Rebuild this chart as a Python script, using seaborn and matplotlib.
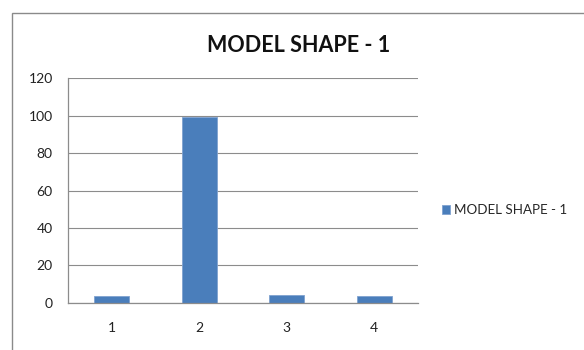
import matplotlib
matplotlib.use("Agg")
import matplotlib.pyplot as plt
import seaborn as sns
import pandas as pd
from matplotlib.patches import Rectangle

categories = ["1", "2", "3", "4"]
values = [3.5, 99, 4.4, 3.5]
series_name = "MODEL SHAPE - 1"
y_ticks = [0, 20, 40, 60, 80, 100, 120]

sns.set_theme(style="white")
plt.rcParams["font.family"] = ["Lato", "DejaVu Sans"]

df = pd.DataFrame({"shape": categories, "value": values, "series": series_name})

fig = plt.figure(figsize=(5.84, 3.5), dpi=100)
ax = fig.add_axes([0.1164, 0.1343, 0.5994, 0.6428])

sns.barplot(data=df, x="shape", y="value", hue="series", palette=["#4A7EBB"],
            saturation=1, width=0.4, ax=ax, legend=True,
            edgecolor="#7FA2D0", linewidth=0.6)

ax.set_xlim(-0.5, 3.5)
ax.set_ylim(0, 120)
ax.set_yticks(y_ticks)
ax.set_yticklabels([str(t) for t in y_ticks], fontsize=10, color="#222222")
ax.set_xlabel("")
ax.set_ylabel("")
ax.tick_params(axis="x", which="major", length=0, pad=14, labelsize=10, labelcolor="#222222")
ax.set_xticks([-0.5, 0.5, 1.5, 2.5, 3.5], minor=True)
ax.tick_params(axis="x", which="minor", length=5, width=0.8, color="#888888", direction="out")
ax.tick_params(axis="y", length=5, width=0.8, color="#888888", direction="out", pad=6)
ax.yaxis.grid(True, color="#8c8c8c", linewidth=0.8)
ax.set_axisbelow(True)
for side in ["top", "right"]:
    ax.spines[side].set_visible(False)
for side in ["left", "bottom"]:
    ax.spines[side].set_color("#8c8c8c")
    ax.spines[side].set_linewidth(0.9)

leg = ax.legend(loc="center left", bbox_to_anchor=(0.745, 0.4), bbox_transform=fig.transFigure,
                frameon=False, fontsize=9.6, handlelength=0.6, handleheight=0.6,
                handletextpad=0.3, borderpad=0)

fig.text(0.512, 0.87, series_name, ha="center", va="center", fontsize=15.5,
         fontweight="bold", color="#111111")

# Outer chart frame
fig.patches.append(Rectangle((12 / 584, -0.05), 1.0, 1 - 13 / 350 + 0.05,
                             transform=fig.transFigure, fill=False,
                             edgecolor="#8a8a8a", linewidth=1.0))

fig.savefig("out.png", dpi=100)
